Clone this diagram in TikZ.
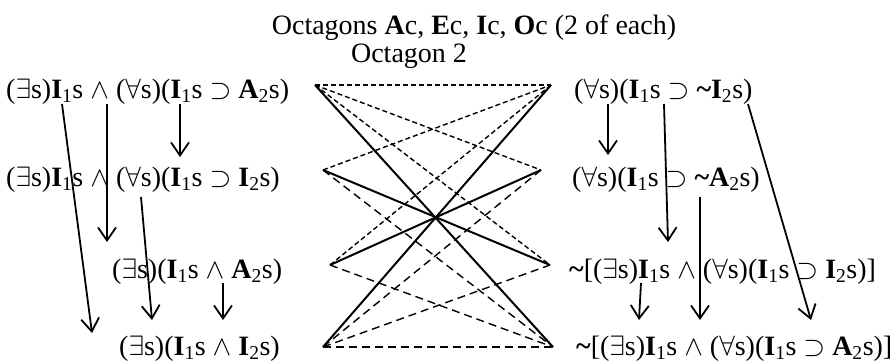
\documentclass[tikz,border=0pt]{standalone}
\usepackage{fix-cm}
\usepackage{fontspec}
\setmainfont{Liberation Serif}
\usetikzlibrary{arrows.meta}
\newcommand{\Ib}{\textbf{I}}
\newcommand{\Ab}{\textbf{A}}
\newcommand{\sbs}[1]{\textsubscript{#1}}
\newcommand{\ngt}{\textbf{\textasciitilde}}
\begin{document}
\begin{tikzpicture}[x=1pt,y=-1pt,
  lbl/.style={anchor=base west, inner sep=0pt, font=\fontsize{28}{30}\selectfont},
  ttl/.style={anchor=base, inner sep=0pt, font=\fontsize{28}{30}\selectfont},
  subal/.style={-{Straight Barb[length=13pt,width=18pt]}, line width=1.8pt},
  contra/.style={line width=2pt},
  contrary/.style={line width=1.4pt, dash pattern=on 5pt off 3pt},
  subcon/.style={line width=1.4pt, dash pattern=on 8pt off 5pt}]
\useasboundingbox (0,0) rectangle (896,362);

% titles
\node[ttl] (t1) at (474,34) {Octagons \textbf{A}c, \textbf{E}c, \textbf{I}c, \textbf{O}c (2 of each)};
\node[ttl] (t2) at (409,62) {Octagon 2};

% left formulas
\node[lbl] (l1) at (6,98) {($\exists$s)\Ib\sbs{1}s $\wedge$ ($\forall$s)(\Ib\sbs{1}s $\supset$ \Ab\sbs{2}s)};
\node[lbl] (l2) at (6,186) {($\exists$s)\Ib\sbs{1}s $\wedge$ ($\forall$s)(\Ib\sbs{1}s $\supset$ \Ib\sbs{2}s)};
\node[lbl] (l3) at (112,278) {($\exists$s)(\Ib\sbs{1}s $\wedge$ \Ab\sbs{2}s)};
\node[lbl] (l4) at (119,355) {($\exists$s)(\Ib\sbs{1}s $\wedge$ \Ib\sbs{2}s)};

% right formulas
\node[lbl] (r1) at (574,98) {($\forall$s)(\Ib\sbs{1}s $\supset$ \ngt\Ib\sbs{2}s)};
\node[lbl] (r2) at (572,186) {($\forall$s)(\Ib\sbs{1}s $\supset$ \ngt\Ab\sbs{2}s)};
\node[lbl] (r3) at (569,278) {\ngt[($\exists$s)\Ib\sbs{1}s $\wedge$ ($\forall$s)(\Ib\sbs{1}s $\supset$ \Ib\sbs{2}s)]};
\node[lbl] (r4) at (576,355) {\ngt[($\exists$s)\Ib\sbs{1}s $\wedge$ ($\forall$s)(\Ib\sbs{1}s $\supset$ \Ab\sbs{2}s)]};

% octagon vertices
\coordinate (L1) at (315,85);
\coordinate (L2) at (323,170);
\coordinate (L3) at (330,265);
\coordinate (L4) at (323,347);
\coordinate (R1) at (551,85);
\coordinate (R2) at (541,170);
\coordinate (R3) at (550,265);
\coordinate (R4) at (553,347);

% contradictories
\draw[contra] (L1) -- (R4);
\draw[contra] (R1) -- (L4);
\draw[contra] (L2) -- (R3);
\draw[contra] (R2) -- (L3);
% contraries
\draw[contrary] (L1) -- (R1);
\draw[contrary] (L1) -- (R2);
\draw[contrary] (L1) -- (R3);
\draw[contrary] (L2) -- (R1);
\draw[contrary] (L3) -- (R1);
% subcontraries
\draw[subcon] (L4) -- (R4);
\draw[subcon] (L4) -- (R2);
\draw[subcon] (L4) -- (R3);
\draw[subcon] (L2) -- (R4);
\draw[subcon] (L3) -- (R4);

% subalternation arrow endpoints
\coordinate (a1s) at (180,104); \coordinate (a1e) at (180,157);
\coordinate (a2s) at (62,104);  \coordinate (a2e) at (92,333);
\coordinate (a3s) at (107,104); \coordinate (a3e) at (107,242);
\coordinate (a4s) at (141,197); \coordinate (a4e) at (152,320);
\coordinate (a5s) at (223,283); \coordinate (a5e) at (223,320);
\coordinate (b1s) at (608,104); \coordinate (b1e) at (608,155);
\coordinate (b2s) at (664,104); \coordinate (b2e) at (668,242);
\coordinate (b3s) at (748,104); \coordinate (b3e) at (811,320);
\coordinate (b4s) at (700,197); \coordinate (b4e) at (700,320);
\coordinate (b5s) at (641,283); \coordinate (b5e) at (639,320);

\draw[subal] (a1s) -- (a1e);
\draw[subal] (a2s) -- (a2e);
\draw[subal] (a3s) -- (a3e);
\draw[subal] (a4s) -- (a4e);
\draw[subal] (a5s) -- (a5e);
\draw[subal] (b1s) -- (b1e);
\draw[subal] (b2s) -- (b2e);
\draw[subal] (b3s) -- (b3e);
\draw[subal] (b4s) -- (b4e);
\draw[subal] (b5s) -- (b5e);
\end{tikzpicture}
\end{document}
